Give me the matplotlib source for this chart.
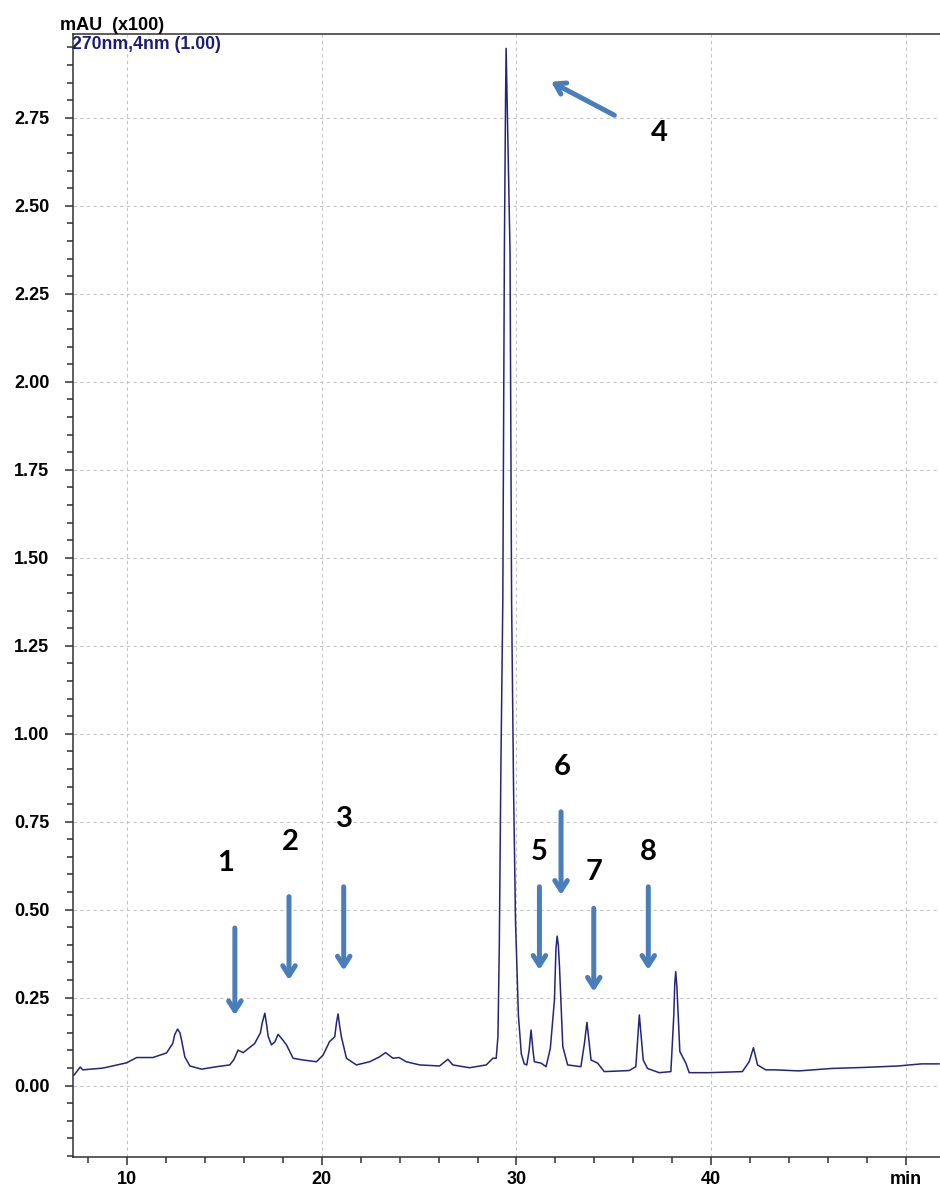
import numpy as np
import matplotlib.pyplot as plt
from matplotlib.ticker import MultipleLocator, FixedLocator

# detector trace, 270 nm (retention time in min, signal in mAU x100)
rt = [7.28, 7.6, 7.73, 8.77, 9.98, 10.5, 11.33, 12.03, 12.35, 12.45, 12.6, 12.72, 12.8, 12.97,
      13.23, 13.83, 14.6, 15.28, 15.5, 15.7, 15.97, 16.56, 16.85, 16.95, 17.08, 17.18, 17.25,
      17.42, 17.6, 17.76, 18.0, 18.19, 18.53, 19.04, 19.73, 20.07, 20.4, 20.67, 20.76,
      20.84, 20.92, 21.01, 21.27, 21.78, 22.46, 22.97, 23.28, 23.66, 23.97, 24.34, 25.03,
      26.05, 26.48, 26.73, 27.59, 28.45, 28.79, 28.96, 29.05, 29.12, 29.2, 29.3,
      29.38, 29.44, 29.47, 29.52, 29.67, 29.75, 29.85, 29.95, 30.1, 30.25, 30.4,
      30.53, 30.65, 30.75, 30.85, 30.92, 31.27, 31.52, 31.74, 31.95, 32.03, 32.09, 32.15, 32.21,
      32.38, 32.63, 33.31, 33.49, 33.62, 33.83, 34.17, 34.51, 35.79, 36.13, 36.31,
      36.51, 36.73, 37.33, 37.93, 38.08, 38.13, 38.18, 38.24, 38.39, 38.7, 38.87, 39.9, 41.6,
      41.95, 42.17, 42.38, 42.8, 43.3, 44.5, 46.2, 47.9, 49.6, 50.8, 51.7]
signal = [0.030, 0.053, 0.045, 0.050, 0.065, 0.080, 0.080, 0.093, 0.120, 0.145, 0.161, 0.150, 0.130, 0.082,
          0.056, 0.047, 0.054, 0.059, 0.075, 0.101, 0.094, 0.120, 0.150, 0.180, 0.206, 0.170, 0.140,
          0.116, 0.125, 0.146, 0.130, 0.116, 0.078, 0.073, 0.068, 0.087, 0.125, 0.139, 0.180,
          0.204, 0.170, 0.139, 0.078, 0.059, 0.068, 0.082, 0.094, 0.078, 0.080, 0.068, 0.059,
          0.056, 0.075, 0.059, 0.051, 0.059, 0.078, 0.078, 0.140, 0.400, 0.900, 1.380,
          2.370, 2.800, 2.947, 2.800, 2.370, 1.380, 0.850, 0.470, 0.200, 0.090, 0.062,
          0.059, 0.100, 0.158, 0.100, 0.068, 0.064, 0.054, 0.106, 0.243, 0.390, 0.425, 0.400, 0.338,
          0.111, 0.059, 0.054, 0.120, 0.180, 0.073, 0.064, 0.040, 0.043, 0.054, 0.201,
          0.073, 0.049, 0.037, 0.040, 0.200, 0.290, 0.324, 0.280, 0.097, 0.064, 0.037, 0.037, 0.040,
          0.068, 0.108, 0.059, 0.045, 0.045, 0.042, 0.049, 0.052, 0.056, 0.062, 0.062]

# numbered peak markers: label, arrow tail (x, y), arrow tip (x, y), label position (x, y)
peak_ids = ['1', '2', '3', '4', '5', '6', '7', '8']
arrow_tail = [(15.54, 0.448), (18.32, 0.537), (21.13, 0.565), (35.03, 2.757),
              (31.18, 0.565), (32.29, 0.778), (33.97, 0.504), (36.77, 0.565)]
arrow_tip = [(15.54, 0.200), (18.32, 0.300), (21.13, 0.327), (31.78, 2.852),
             (31.18, 0.329), (32.29, 0.542), (33.97, 0.267), (36.77, 0.329)]
label_pos = [(15.06, 0.633), (18.41, 0.693), (21.15, 0.757), (37.33, 2.707),
             (31.18, 0.665), (32.34, 0.906), (33.97, 0.608), (36.77, 0.665)]

x_major = [10, 20, 30, 40, 50]
x_labels = ['10', '20', '30', '40', 'min']

fig = plt.figure(figsize=(9.4, 11.87), dpi=100)
ax = fig.add_axes([0.0777, 0.0253, 0.9223, 0.9461])

ax.plot(rt, signal, color='#24247d', lw=1.1, zorder=3)

ax.set_xlim(7.23, 51.75)
ax.set_ylim(-0.2025, 2.988)

ax.xaxis.set_major_locator(FixedLocator(x_major))
ax.set_xticklabels(x_labels)
ax.xaxis.set_minor_locator(MultipleLocator(2))
ax.yaxis.set_major_locator(MultipleLocator(0.25))
ax.yaxis.set_minor_locator(MultipleLocator(0.05))
ax.set_yticks(np.arange(0, 2.76, 0.25))
ax.set_yticklabels(['%.2f' % v for v in np.arange(0, 2.76, 0.25)])

ax.grid(True, which='major', color='#c4c4c4', linestyle=(0, (3, 3)), lw=0.8)
ax.tick_params(axis='both', which='major', direction='out', length=6, width=1.1,
               colors='#303030', labelcolor='black')
ax.tick_params(axis='both', which='minor', direction='out', length=4.5, width=1.1,
               colors='#303030')
ax.tick_params(axis='y', which='major', pad=11)
ax.tick_params(axis='x', which='major', pad=4)
for lab in ax.get_xticklabels() + ax.get_yticklabels():
    lab.set_fontfamily('Liberation Sans')
    lab.set_fontweight('bold')
    lab.set_fontsize(13)

ax.spines['right'].set_visible(False)
for s in ('left', 'bottom', 'top'):
    ax.spines[s].set_color('#303030')
    ax.spines[s].set_linewidth(1.1)

# header texts
fig.text(60 / 940, 1 - 30 / 1187, 'mAU  (x100)', fontsize=13, fontweight='bold',
         family='Liberation Sans', color='black', va='baseline')
fig.text(72 / 940, 1 - 49 / 1187, '270nm,4nm (1.00)', fontsize=12.7, fontweight='bold',
         family='Liberation Sans', color='#1c1c78', va='baseline')

# peak arrows and numbers
for pid, tail, tip, pos in zip(peak_ids, arrow_tail, arrow_tip, label_pos):
    ax.annotate('', xy=tip, xytext=tail,
                arrowprops=dict(arrowstyle='->, head_width=0.45, head_length=0.7',
                                color='#4a7ebb', lw=3.6, shrinkA=0, shrinkB=0),
                zorder=4)
    ax.text(pos[0], pos[1], pid, fontsize=21, fontweight='bold', family='Lato',
            color='black', ha='center', va='center', zorder=5)

fig.savefig('out.png', dpi=100)
